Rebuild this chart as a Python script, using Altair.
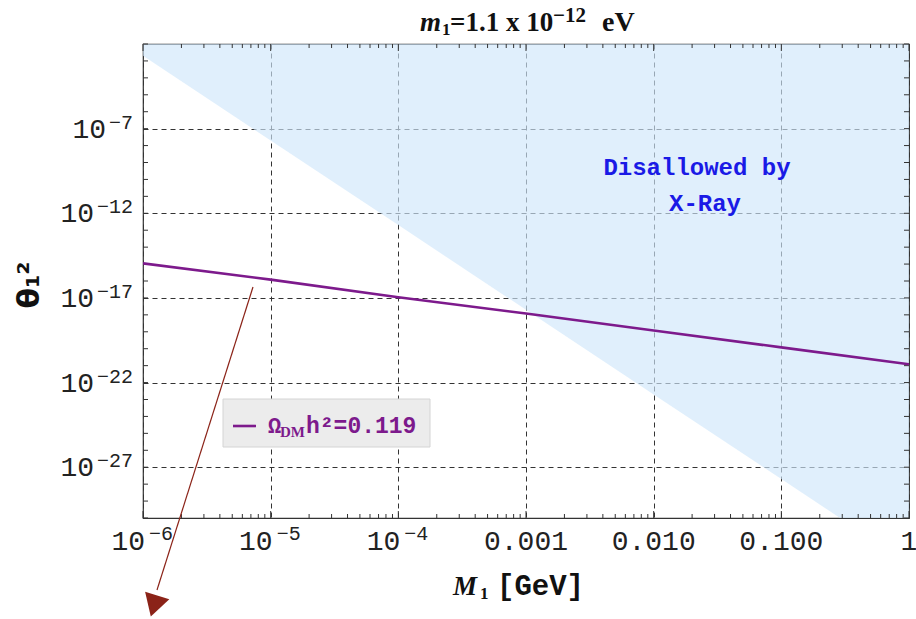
import altair as alt
import pandas as pd

# ---------------- data ----------------
M_line = [1e-6, 1e-5, 1e-4, 1e-3, 1e-2, 1e-1, 1.0]
theta_line = [1.1e-15, 1.2e-16, 1.1e-17, 1.2e-18, 1.2e-19, 1.2e-20, 1.2e-21]

M_xray = [1e-6, 1e-5, 1e-4, 1e-3, 1e-2, 1e-1, 1.0]
theta_xray = [2e-3, 2e-8, 2e-13, 2e-18, 2e-23, 2e-28, 2e-33]
theta_top = 1e-2

x_major = [1e-6, 1e-5, 1e-4, 1e-3, 1e-2, 1e-1, 1.0]
x_pow_vals = [1e-6, 1e-5, 1e-4]
x_pow_exps = ["−6", "−5", "−4"]
x_plain_vals = [1e-3, 1e-2, 1e-1, 1.0]
x_plain_labels = ["0.001", "0.010", "0.100", "1"]
x_minor_mant = [2, 3, 4, 5, 6, 7, 8, 9]
x_minor = [m * d for d in x_major[:-1] for m in x_minor_mant]

y_decades = [10.0 ** (-k) for k in range(2, 31)]
y_labeled = [1e-7, 1e-12, 1e-17, 1e-22, 1e-27]
y_exps = ["−7", "−12", "−17", "−22", "−27"]

W, H = 766, 474
PURPLE = "#7d1a8c"
INK = "#222222"

xscale = alt.Scale(type="log", domain=[1e-6, 1], nice=False)
yscale = alt.Scale(type="log", domain=[1e-30, 1e-2], nice=False)

xaxis = alt.Axis(values=x_major, labels=False, title=None, ticks=False, domain=False,
                 grid=True, gridDash=[5, 4], gridColor="#333333", gridWidth=1)
yaxis = alt.Axis(values=y_labeled, labels=False, title=None, ticks=False, domain=False,
                 grid=True, gridDash=[5, 4], gridColor="#333333", gridWidth=1)

X = lambda f="M": alt.X(f"{f}:Q", scale=xscale, axis=xaxis)
Y = lambda f="theta": alt.Y(f"{f}:Q", scale=yscale, axis=yaxis)

one = pd.DataFrame({"a": [0]})

# X-ray excluded region
xray_df = pd.DataFrame({"M": M_xray, "theta": theta_xray, "top": [theta_top] * len(M_xray)})
xray = alt.Chart(xray_df).mark_area(color="#d0e7fb", opacity=0.65, clip=True).encode(
    x=X(), y=Y(), y2="top:Q")

# relic line
line_df = pd.DataFrame({"M": M_line, "theta": theta_line})
line = alt.Chart(line_df).mark_line(color=PURPLE, strokeWidth=2.6, clip=True).encode(x=X(), y=Y())

# ticks (inward)
def xticks(vals, y0, y1):
    return alt.Chart(pd.DataFrame({"M": vals})).mark_rule(color="#333333", strokeWidth=1).encode(
        x=X(), y=alt.value(y0), y2=alt.value(y1))

def yticks(vals, x0, x1):
    return alt.Chart(pd.DataFrame({"theta": vals})).mark_rule(color="#333333", strokeWidth=1).encode(
        y=Y(), x=alt.value(x0), x2=alt.value(x1))

ticks = [
    xticks(x_major, H, H - 7), xticks(x_minor, H, H - 4),
    xticks(x_major, 0, 7), xticks(x_minor, 0, 4),
    yticks(y_decades, 0, 5), yticks(y_decades, W, W - 5),
]

# tick labels
LF = "Liberation Mono"
xpow_df = pd.DataFrame({"M": x_pow_vals, "exp": x_pow_exps})
x_base = alt.Chart(xpow_df).mark_text(text="10", font=LF, fontSize=28, color=INK, align="right",
                                       baseline="alphabetic", dx=2).encode(x=X(), y=alt.value(H + 32))
x_exp = alt.Chart(xpow_df).mark_text(font=LF, fontSize=20, color=INK, align="left",
                                      baseline="alphabetic", dx=6).encode(
    x=X(), y=alt.value(H + 22), text="exp:N")
xplain_df = pd.DataFrame({"M": x_plain_vals, "lab": x_plain_labels})
x_plain = alt.Chart(xplain_df).mark_text(font=LF, fontSize=28, color=INK, align="center",
                                          baseline="alphabetic").encode(
    x=X(), y=alt.value(H + 32), text="lab:N")

ylab_df = pd.DataFrame({"theta": y_labeled, "exp": y_exps})
y_base = alt.Chart(ylab_df).transform_calculate(
    px="-13 - 12 * length(datum.exp)"
).mark_text(text="10", font=LF, fontSize=28, color=INK, align="right",
            baseline="alphabetic", dy=9).encode(x=alt.X("px:Q", scale=None), y=Y())
y_exp = alt.Chart(ylab_df).mark_text(font=LF, fontSize=20, color=INK, align="right",
                                      baseline="alphabetic", dy=0).encode(
    x=alt.value(-10), y=Y(), text="exp:N")


def txt(text, x, y, size, color="#111111", font="Liberation Mono", weight="normal",
        style="normal", align="left", baseline="alphabetic", angle=0):
    return alt.Chart(one).mark_text(text=text, font=font, fontSize=size, fontWeight=weight,
                                     fontStyle=style, align=align, baseline=baseline,
                                     color=color, angle=angle).encode(
        x=alt.value(x), y=alt.value(y))

# legend box
legend_box = alt.Chart(one).mark_rect(fill="#ececec", stroke="#d4d4d4", strokeWidth=1).encode(
    x=alt.value(80), x2=alt.value(287), y=alt.value(355), y2=alt.value(403))
legend_line = alt.Chart(one).mark_rule(color=PURPLE, strokeWidth=2.6).encode(
    x=alt.value(90), x2=alt.value(113), y=alt.value(382))
legend_texts = [
    txt("Ω", 125, 389, 22, color=PURPLE, weight="bold"),
    txt("DM", 137, 393, 15, color=PURPLE, font="Liberation Serif", weight="bold"),
    txt("h²=0.119", 163, 389, 23, color=PURPLE, weight="bold"),
]

# arrow
arrow_df = pd.DataFrame({"px": [110, 14], "py": [243, 546]})
arrow = alt.Chart(arrow_df).mark_line(color="#8b2318", strokeWidth=1.2).encode(
    x=alt.X("px:Q", scale=None), y=alt.Y("py:Q", scale=None))
arrow_head = alt.Chart(one).mark_point(shape="triangle-down", filled=True, color="#8b2318",
                                       opacity=1, size=640, angle=17).encode(
    x=alt.value(11), y=alt.value(562))

SF = "Liberation Serif"
annots = [
    txt("Disallowed by", 554, 131, 24, color="#1a1ae6", weight="bold", align="center"),
    txt("X-Ray", 562, 167, 24, color="#1a1ae6", weight="bold", align="center"),
    # title  m1 = 1.1 x 10^-12 eV
    txt("m", 277, -13, 27, font=SF, weight="bold", style="italic"),
    txt("1", 299, -9, 17, font=SF, weight="bold"),
    txt("=1.1 x 10", 307, -13, 27, font=SF, weight="bold"),
    txt("−12", 410, -22, 21, font=SF, weight="bold"),
    txt("eV", 459, -13, 28, font=SF, weight="bold"),
    # x title
    txt("M", 310, 551, 27, font=SF, weight="bold", style="italic"),
    txt("1", 337, 555, 17, font=SF, weight="bold"),
    txt("[GeV]", 354, 551, 29, weight="bold"),
    # y title
    txt("θ₁²", -113, 241, 30, font="DejaVu Sans", weight="bold", align="center",
        baseline="middle", angle=270),
]

chart = alt.layer(
    xray, *ticks, line, x_base, x_exp, x_plain, y_base, y_exp,
    legend_box, legend_line, *legend_texts, arrow, arrow_head, *annots
).properties(
    width=W, height=H,
    autosize=alt.AutoSizeParams(type="none"),
    padding={"left": 143, "top": 44, "right": 7, "bottom": 101},
).configure_view(
    stroke="#333333", strokeWidth=1.2
)

chart.save("out.html", embed_options={"renderer": "svg", "actions": False})
